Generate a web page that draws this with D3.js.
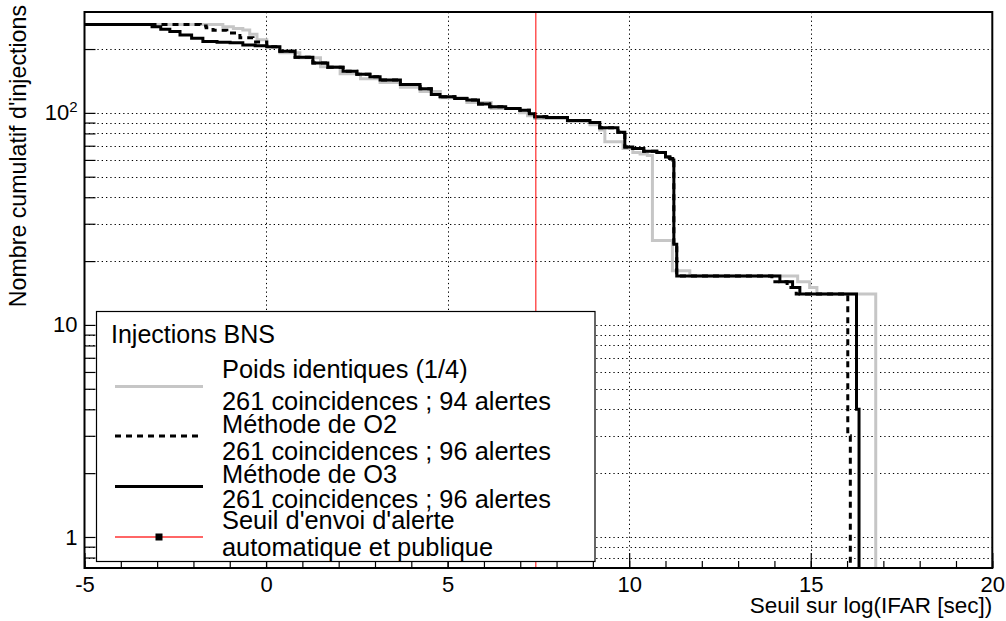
<!DOCTYPE html>
<html>
<head>
<meta charset="utf-8">
<script src="https://cdn.jsdelivr.net/npm/d3@7"></script>
<style>
  body { margin: 0; background: #fff; }
  svg text { font-family: "Liberation Sans", Arial, Helvetica, sans-serif; fill: #000; }
</style>
</head>
<body>
<svg id="chart" width="1006" height="621"></svg>
<script>
// ---- axis definitions ----
const xDomain = [-5, 20];
const yDomain = [0.714, 299];
const xMajorTicks = [-5, 0, 5, 10, 15, 20];
const xMinorTicks = d3.range(-5, 21, 1);
const yTickValues = [0.8, 0.9, 1, 2, 3, 4, 5, 6, 7, 8, 9, 10, 20, 30, 40, 50, 60, 70, 80, 90, 100, 200];
const yLabelled = [1, 10, 100];
const xTitle = "Seuil sur log(IFAR [sec])";
const yTitle = "Nombre cumulatif d'injections";

// ---- cumulative counts: count N[i] holds from X[i] up to X[i+1] ----
// equal weights (1/4)
const equalX = [-5, -1.19, -0.9, -0.64, -0.45, -0.25, 0.02, 0.38, 0.93, 1.5, 2.04, 2.6, 3.14, 3.7, 4.24, 4.8, 5.53, 6.2, 6.99, 7.2, 7.40, 8.3, 8.92, 9.19, 9.33, 9.83, 10.1, 10.3, 10.5, 10.64, 11.19, 11.67, 14.64, 14.97, 15.17, 16.79];
const equalN = [261, 255, 250, 246, 235, 221, 205, 192, 182, 165, 153, 145, 139, 132, 126, 118, 112, 105, 100, 97, 94, 91, 88, 83, 73, 68, 65, 64, 63, 25, 18, 17, 16, 15, 14, 0];
// O2 method
const o2X = [-5, -1.81, -1.65, -1.46, -1.08, -0.72, -0.36, 0.02, 0.38, 0.8, 1.29, 1.7, 2.12, 2.5, 2.86, 3.14, 3.7, 4.24, 4.55, 4.79, 5.2, 5.53, 5.85, 6.16, 6.6, 6.99, 7.25, 7.40, 7.73, 8.3, 8.92, 9.19, 9.69, 9.88, 10.1, 10.4, 10.76, 11.0, 11.12, 11.2, 11.23, 11.31, 13.93, 14.35, 14.6, 16.02, 16.09];
const o2N = [261, 257, 252, 245, 238, 226, 216, 205, 195, 183, 172, 164, 157, 152, 148, 143, 136, 130, 122, 119, 117, 115, 110, 107, 105, 103, 99, 96, 95, 92, 90, 85, 81, 69, 68, 66, 65, 62, 61, 60, 24, 17, 16, 15, 14, 3, 0];
// O3 method
const o3X = [-5, -3.14, -2.9, -2.65, -2.37, -2.05, -1.74, -1.35, -0.99, -0.64, -0.3, 0.02, 0.38, 0.8, 1.29, 1.7, 2.12, 2.5, 2.86, 3.14, 3.7, 4.24, 4.55, 4.79, 5.2, 5.53, 5.85, 6.16, 6.6, 6.99, 7.25, 7.40, 7.73, 8.3, 8.92, 9.19, 9.69, 9.88, 10.1, 10.4, 10.76, 11.0, 11.12, 11.2, 11.23, 11.31, 14.15, 14.5, 14.7, 16.26, 16.33];
const o3N = [261, 255, 248, 242, 233, 225, 217, 215, 214, 209, 207, 205, 195, 183, 172, 164, 157, 152, 148, 143, 136, 130, 122, 119, 117, 115, 110, 107, 105, 103, 99, 96, 95, 92, 90, 85, 81, 69, 68, 66, 65, 62, 61, 60, 24, 17, 16, 15, 14, 4, 0];

// alert threshold on log(IFAR)
const threshold = 7.43;

// legend text
const legendTitle = "Injections BNS";
const legendLines = [
  ["Poids identiques (1/4)", "261 coincidences ; 94 alertes"],
  ["Méthode de O2", "261 coincidences ; 96 alertes"],
  ["Méthode de O3", "261 coincidences ; 96 alertes"],
  ["Seuil d'envoi d'alerte", "automatique et publique"]
];

// ---- layout ----
const L = 84.5, R = 992.3, T = 12, B = 568;
const svg = d3.select("#chart");
const x = d3.scaleLinear().domain(xDomain).range([L, R]);
const y = d3.scaleLog().domain(yDomain).range([B, T]);

svg.append("defs").append("clipPath").attr("id", "plotClip")
  .append("rect").attr("x", L).attr("y", T).attr("width", R - L).attr("height", B - T);

// grid
const grid = svg.append("g").attr("stroke", "#000").attr("stroke-width", 1)
  .attr("stroke-dasharray", "1.3,3").attr("fill", "none");
grid.selectAll("line.v").data(xMajorTicks.filter(v => v > xDomain[0] && v < xDomain[1]))
  .join("line").attr("x1", d => Math.round(x(d)) + 0.5).attr("x2", d => Math.round(x(d)) + 0.5)
  .attr("y1", T).attr("y2", B);
grid.selectAll("line.h").data(yTickValues)
  .join("line").attr("y1", d => Math.round(y(d)) + 0.5).attr("y2", d => Math.round(y(d)) + 0.5)
  .attr("x1", L).attr("x2", R);

// step curves
function stepPoints(X, N) {
  const pts = X.map((v, i) => [v, N[i]]);
  pts.push([xDomain[1], N[N.length - 1]]);
  return pts;
}
const line = d3.line()
  .x(d => x(d[0]))
  .y(d => d[1] > 0 ? y(d[1]) : B + 10)
  .curve(d3.curveStepAfter);

const curves = svg.append("g").attr("clip-path", "url(#plotClip)").attr("fill", "none");
curves.append("path").attr("d", line(stepPoints(equalX, equalN)))
  .attr("stroke", "#c6c6c6").attr("stroke-width", 3);
curves.append("path").attr("d", line(stepPoints(o2X, o2N)))
  .attr("stroke", "#000").attr("stroke-width", 3).attr("stroke-dasharray", "6,5");
curves.append("path").attr("d", line(stepPoints(o3X, o3N)))
  .attr("stroke", "#000").attr("stroke-width", 3);

// threshold
svg.append("line").attr("x1", x(threshold)).attr("x2", x(threshold))
  .attr("y1", T).attr("y2", B).attr("stroke", "#ff0000").attr("stroke-width", 1);

// axes
const axisStyle = g => {
  g.select(".domain").remove();
  g.selectAll(".tick line").attr("stroke", "#000").attr("stroke-width", 1.2);
  g.selectAll("text").attr("font-size", 22).attr("font-family", "Liberation Sans, Arial, sans-serif");
};
svg.append("g").attr("transform", `translate(0,${B})`)
  .call(d3.axisBottom(x).tickValues(xMinorTicks).tickSize(-7).tickFormat(""))
  .call(axisStyle);
svg.append("g").attr("transform", `translate(0,${B})`)
  .call(d3.axisBottom(x).tickValues(xMajorTicks).tickSize(-15).tickPadding(8).tickFormat(d => String(d)))
  .call(axisStyle);
const yAxis = svg.append("g").attr("transform", `translate(${L},0)`)
  .call(d3.axisLeft(y).tickValues(yTickValues).tickSize(-11).tickPadding(7)
    .tickFormat(d => yLabelled.includes(d) ? (d === 100 ? "10" : String(d)) : ""))
  .call(axisStyle);
yAxis.selectAll(".tick text").filter(d => d === 100)
  .append("tspan").attr("baseline-shift", "super").attr("font-size", 15).text("2");

// frame
svg.append("rect").attr("x", L).attr("y", T).attr("width", R - L).attr("height", B - T)
  .attr("fill", "none").attr("stroke", "#000").attr("stroke-width", 2);

// axis titles
svg.append("text").attr("x", R).attr("y", 613).attr("text-anchor", "end")
  .attr("font-size", 22.5).text(xTitle);
svg.append("text").attr("transform", `translate(26,${T - 7}) rotate(-90)`)
  .attr("text-anchor", "end").attr("font-size", 23.2).text(yTitle);

// legend
const lg = svg.append("g");
lg.append("rect").attr("x", 96.5).attr("y", 311.5).attr("width", 498.5).attr("height", 250)
  .attr("fill", "#fff").attr("stroke", "#000").attr("stroke-width", 1.2);
lg.append("text").attr("x", 111).attr("y", 343).attr("font-size", 25).text(legendTitle);
const textBase = [[378, 410], [433, 460], [483, 508], [529, 556]];
legendLines.forEach((pair, i) => {
  pair.forEach((t, j) => {
    lg.append("text").attr("x", 222).attr("y", textBase[i][j]).attr("font-size", 25.4).text(t);
  });
});
const symX = [115, 203];
lg.append("line").attr("x1", symX[0]).attr("x2", symX[1]).attr("y1", 386.5).attr("y2", 386.5)
  .attr("stroke", "#c6c6c6").attr("stroke-width", 3);
lg.append("line").attr("x1", symX[0]).attr("x2", symX[1]).attr("y1", 436).attr("y2", 436)
  .attr("stroke", "#000").attr("stroke-width", 3).attr("stroke-dasharray", "6,5");
lg.append("line").attr("x1", symX[0]).attr("x2", symX[1]).attr("y1", 486.5).attr("y2", 486.5)
  .attr("stroke", "#000").attr("stroke-width", 3);
lg.append("line").attr("x1", symX[0]).attr("x2", symX[1]).attr("y1", 537).attr("y2", 537)
  .attr("stroke", "#ff3333").attr("stroke-width", 1.5);
lg.append("rect").attr("x", (symX[0] + symX[1]) / 2 - 3.5).attr("y", 533.5)
  .attr("width", 7).attr("height", 7).attr("fill", "#000");
</script>
</body>
</html>
